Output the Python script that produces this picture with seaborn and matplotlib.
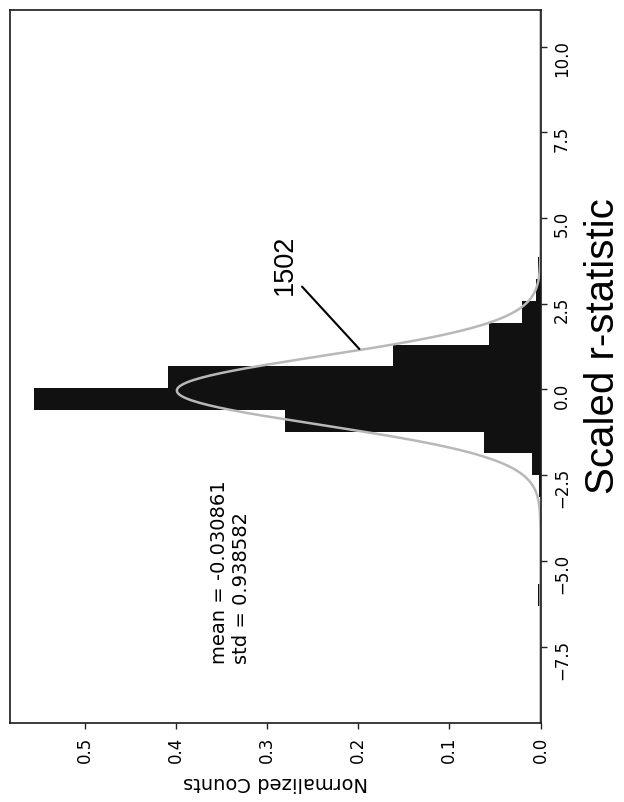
import numpy as np
import matplotlib
matplotlib.use("Agg")
import matplotlib.pyplot as plt
import seaborn as sns

# ---- data ----
bin_edges = [-6.31, -5.675, -5.04, -4.405, -3.77, -3.135, -2.50, -1.865, -1.23,
             -0.595, 0.04, 0.675, 1.31, 1.945, 2.58, 3.215, 3.85]
normalized_counts = [0.003, 0.0, 0.0, 0.0, 0.0, 0.002, 0.009, 0.0615, 0.280,
                     0.556, 0.409, 0.1615, 0.057, 0.020, 0.005, 0.003]
fit_mean = -0.030861
fit_std = 0.938582
curve_sigma = 1.0          # width of the drawn normal curve (peak ~0.40)
r_ticks = [-7.5, -5.0, -2.5, 0.0, 2.5, 5.0, 7.5, 10.0]
r_tick_labels = ["\u22127.5", "\u22125.0", "\u22122.5", "0.0", "2.5", "5.0", "7.5", "10.0"]
count_ticks = [0.0, 0.1, 0.2, 0.3, 0.4, 0.5]
count_tick_labels = ["0.0", "0.1", "0.2", "0.3", "0.4", "0.5"]
r_limits = (-9.73, 11.07)
count_limits = (0.582, 0.0)
annotation_label = "1502"

sns.set_style("white")
plt.rcParams["font.family"] = ["DejaVu Sans"]
plt.rcParams["text.color"] = "black"
plt.rcParams["axes.labelcolor"] = "black"
plt.rcParams["xtick.color"] = "black"
plt.rcParams["ytick.color"] = "black"

fig = plt.figure(figsize=(6.24, 8.02), dpi=100)
ax = fig.add_axes([10 / 624, 79 / 802, 530.5 / 624, 713 / 802])

centers = [(a + b) / 2 for a, b in zip(bin_edges[:-1], bin_edges[1:])]
sns.histplot(y=centers, weights=normalized_counts, bins=bin_edges, stat="count",
             color="#111111", alpha=1.0, edgecolor="none", linewidth=0, ax=ax)

r_grid = np.linspace(r_limits[0], r_limits[1], 600)
pdf = np.exp(-0.5 * ((r_grid - fit_mean) / curve_sigma) ** 2) / (curve_sigma * np.sqrt(2 * np.pi))
sns.lineplot(x=pdf, y=r_grid, orient="y", sort=False, estimator=None,
             color="#b8b8b8", linewidth=1.8, ax=ax)

ax.set_ylim(*r_limits)
ax.set_xlim(*count_limits)

ax.yaxis.tick_right()
ax.set_yticks(r_ticks)
ax.set_yticklabels(r_tick_labels)
ax.set_xticks(count_ticks)
ax.set_xticklabels(count_tick_labels)
ax.tick_params(axis="y", which="major", direction="out", length=4, width=1,
               labelrotation=90, pad=5, labelsize=12, right=True, left=False,
               color="#222222", labelcolor="black")
ax.tick_params(axis="x", which="major", direction="out", length=4, width=1,
               labelrotation=90, pad=6, labelsize=12, bottom=True,
               color="#222222", labelcolor="black")

for sp in ax.spines.values():
    sp.set_visible(True)
    sp.set_color("#1a1a1a")
    sp.set_linewidth(1.2)

ax.yaxis.set_label_position("right")
ax.set_ylabel("Scaled r-statistic", fontsize=29, family=["Liberation Sans"],
              rotation=90, ha="center", va="center", rotation_mode="anchor",
              color="black")
ax.yaxis.set_label_coords(1.118, 0.529)
ax.set_xlabel("Normalized Counts", fontsize=14, rotation=180,
              ha="center", va="center", color="black")
ax.xaxis.set_label_coords(0.5, -0.083)

ax.text(0.34, -8.0, f"mean = {fit_mean}\nstd = {fit_std}", rotation=90,
        rotation_mode="anchor", ha="left", va="center", fontsize=14,
        multialignment="left", color="black")

ax.annotate("", xy=(0.1987, 1.18), xytext=(0.2616, 3.0),
            arrowprops=dict(arrowstyle="-", lw=1.5, color="black",
                            shrinkA=0, shrinkB=0))
ax.text(0.280, 3.64, annotation_label, rotation=90, ha="center", va="center",
        fontsize=19.5, family=["Liberation Sans"], color="black")

fig.savefig("out.png", dpi=100)
